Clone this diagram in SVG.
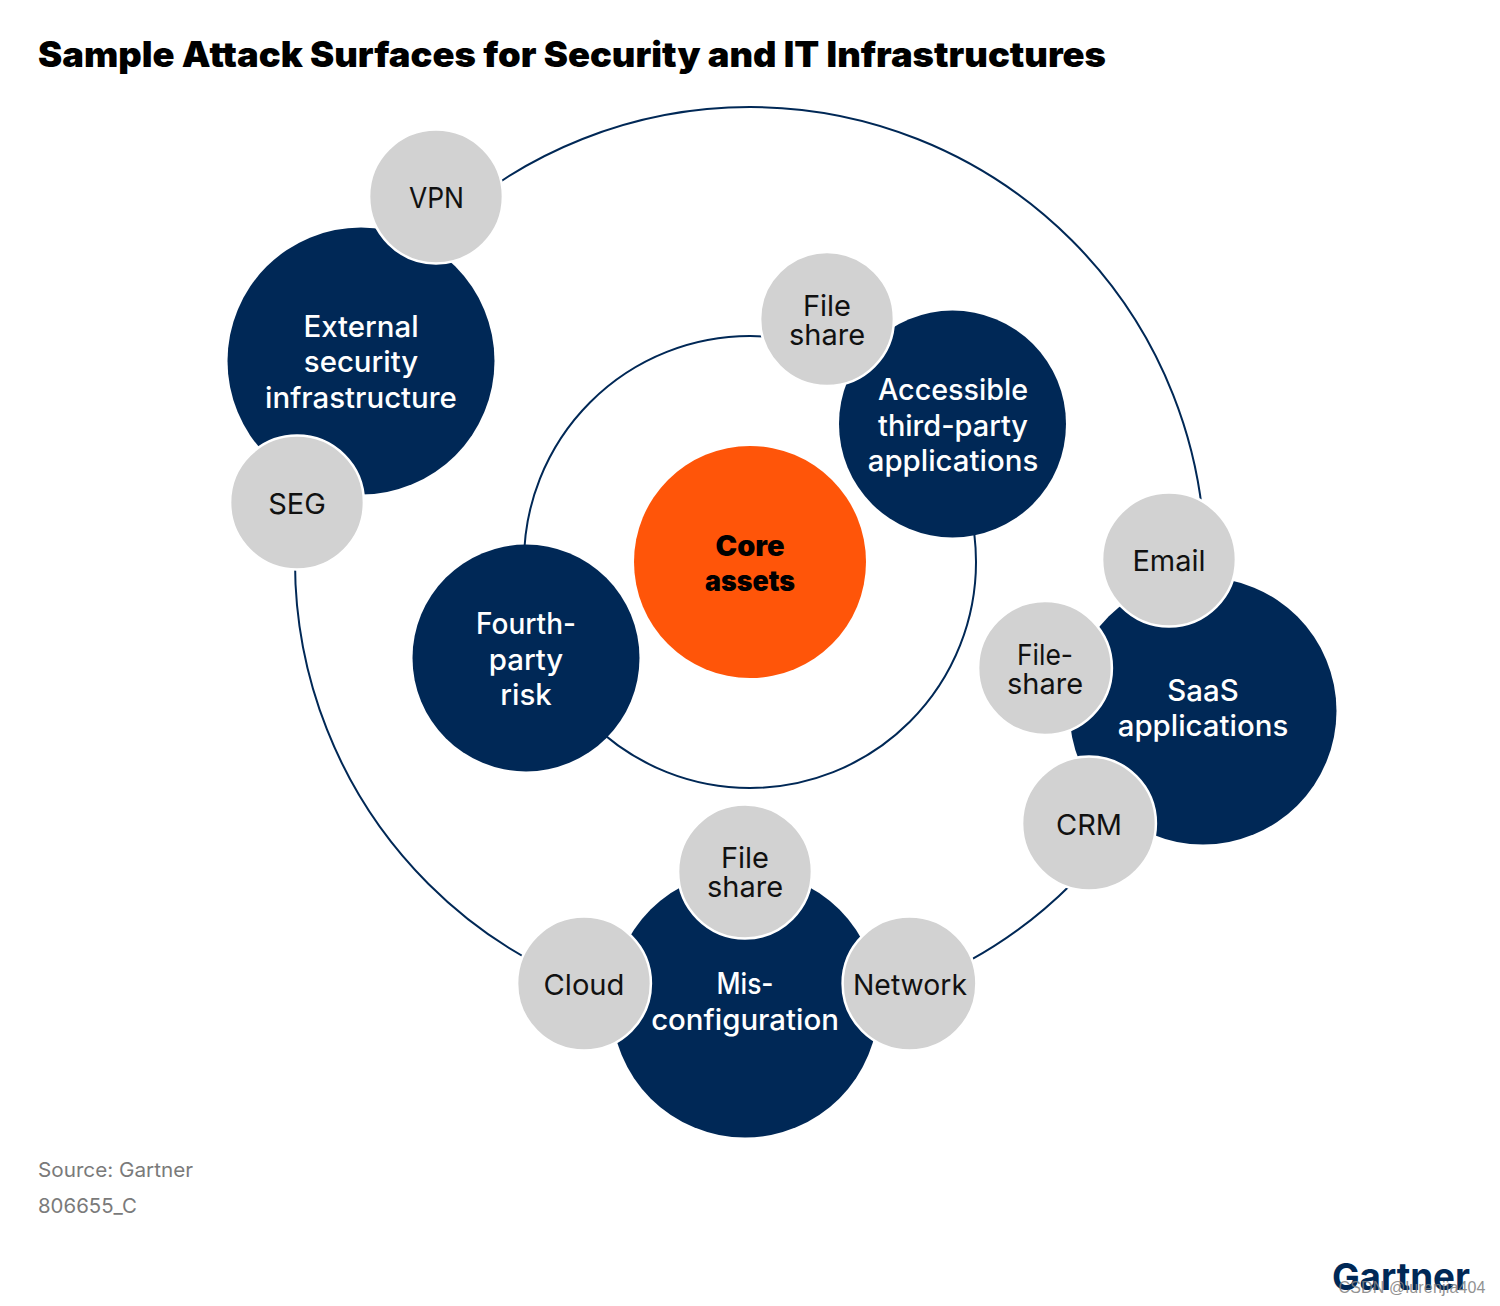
<svg xmlns="http://www.w3.org/2000/svg" width="1500" height="1306" viewBox="0 0 1500 1306">
<style>
text{font-family:"Inter","Liberation Sans",sans-serif;text-anchor:middle}
.n{fill:#002856}
.g{fill:#d2d2d2;stroke:#fff;stroke-width:2.5}
.w{fill:#fff;font-size:29.4px;font-weight:500}
.b{fill:#111;font-size:29px}
.l{fill:none;stroke:#002856;stroke-width:2}
.s{fill:#7a7a7a;font-size:20px;text-anchor:start}
.c{font-size:28px;font-weight:900;fill:#000}
</style>
<rect width="1500" height="1306" fill="#fff"/>
<text x="38" y="67" style="text-anchor:start;font-size:35px;font-weight:900;fill:#000" textLength="1068" lengthAdjust="spacingAndGlyphs">Sample Attack Surfaces for Security and IT Infrastructures</text>
<g id="connectors">
<circle class="l" cx="750" cy="562" r="226"/>
<circle class="l" cx="750" cy="562" r="455"/>
</g>
<g id="core"><circle cx="750" cy="562" r="116" fill="#ff5509"/><text class="c" x="750" y="556" textLength="69" lengthAdjust="spacingAndGlyphs">Core</text><text class="c" x="750" y="591" textLength="90" lengthAdjust="spacingAndGlyphs">assets</text></g>
<g id="external"><circle class="n" cx="361" cy="361" r="133.5"/><text class="w" x="361" y="337">External</text><text class="w" x="361" y="372">security</text><text class="w" x="361" y="408">infrastructure</text></g>
<g id="accessible"><circle class="n" cx="952.5" cy="424" r="113.5"/><text class="w" x="953" y="400" textLength="150" lengthAdjust="spacingAndGlyphs">Accessible</text><text class="w" x="953" y="436" textLength="150" lengthAdjust="spacingAndGlyphs">third-party</text><text class="w" x="953" y="471">applications</text></g>
<g id="fourth"><circle class="n" cx="526" cy="658" r="113.5"/><text class="w" x="526" y="634" textLength="100" lengthAdjust="spacingAndGlyphs">Fourth-</text><text class="w" x="526" y="670">party</text><text class="w" x="526" y="705">risk</text></g>
<g id="saas"><circle class="n" cx="1203" cy="711" r="133.5"/><text class="w" x="1203" y="701">SaaS</text><text class="w" x="1203" y="736">applications</text></g>
<g id="misconfig"><circle class="n" cx="745" cy="1004" r="133.5"/><text class="w" x="745" y="994" textLength="57" lengthAdjust="spacingAndGlyphs">Mis-</text><text class="w" x="745" y="1030">configuration</text></g>
<g id="vpn"><circle class="g" cx="436" cy="196.500" r="66.900"/><text class="b" x="436.500" y="208" textLength="55" lengthAdjust="spacingAndGlyphs">VPN</text></g>
<g id="seg"><circle class="g" cx="297" cy="502.500" r="66.900"/><text class="b" x="297" y="514">SEG</text></g>
<g id="fileshare1"><circle class="g" cx="827" cy="319" r="66.900"/><text class="b" x="827" y="316">File</text><text class="b" x="827" y="345">share</text></g>
<g id="email"><circle class="g" cx="1169" cy="559.500" r="66.900"/><text class="b" x="1169" y="571">Email</text></g>
<g id="fileshare2"><circle class="g" cx="1045" cy="668" r="66.900"/><text class="b" x="1045" y="665" textLength="56" lengthAdjust="spacingAndGlyphs">File-</text><text class="b" x="1045" y="694">share</text></g>
<g id="crm"><circle class="g" cx="1089" cy="823.500" r="66.900"/><text class="b" x="1089" y="835">CRM</text></g>
<g id="fileshare3"><circle class="g" cx="745" cy="871.500" r="66.900"/><text class="b" x="745" y="868">File</text><text class="b" x="745" y="897">share</text></g>
<g id="cloud"><circle class="g" cx="584" cy="983.500" r="66.900"/><text class="b" x="584" y="995" textLength="81" lengthAdjust="spacingAndGlyphs">Cloud</text></g>
<g id="network"><circle class="g" cx="909.500" cy="983.500" r="66.900"/><text class="b" x="910" y="995" textLength="114" lengthAdjust="spacingAndGlyphs">Network</text></g>
<text class="s" x="38" y="1177" textLength="155" lengthAdjust="spacingAndGlyphs">Source: Gartner</text>
<text class="s" x="38" y="1213" textLength="99" lengthAdjust="spacingAndGlyphs">806655_C</text>
<text x="1401" y="1290" style="font-size:37.500px;font-weight:700;fill:#002856" textLength="138" lengthAdjust="spacingAndGlyphs">Gartner</text>
<text x="1412" y="1293" style="font-family:'Liberation Sans',sans-serif;font-size:16px;fill:#808080;opacity:.85" textLength="147">CSDN @lurenjia404</text>
</svg>
